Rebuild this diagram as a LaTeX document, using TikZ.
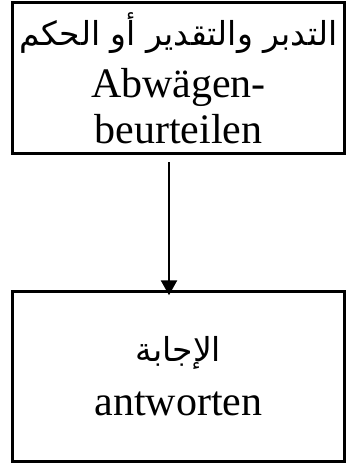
\documentclass[tikz,border=0pt]{standalone}
\usepackage{fontspec}
\setmainfont{Liberation Serif}
\newfontfamily\arabicfont[Script=Arabic]{DejaVu Sans}
\TeXXeTstate=1
\usetikzlibrary{arrows.meta}
\begin{document}
\begin{tikzpicture}[x=1pt,y=-1pt,
  box/.style={draw, line width=2.5pt, minimum width=332pt, inner sep=0pt,
    align=center, font=\fontsize{42}{46}\selectfont},
  conn/.style={line width=2.5pt, -{Triangle[width=16pt,length=15pt]}}]
\useasboundingbox (0,0) rectangle (346,464);
\node[box, minimum height=151pt] (top) at (178.5,78)
  {{\arabicfont\fontsize{33}{40}\selectfont\beginR التدبر  والتقدير أو الحكم\endR}\\[6pt]
   Abwägen-\\beurteilen};
\node[box, minimum height=170pt] (bot) at (178.5,376.5)
  {{\arabicfont\fontsize{33}{40}\selectfont\beginR الإجابة\endR}\\[8pt]antworten};
\coordinate (a1) at (169,162);
\draw[conn, shorten >=-5pt] (a1) -- (a1 |- bot.north);
\end{tikzpicture}
\end{document}
